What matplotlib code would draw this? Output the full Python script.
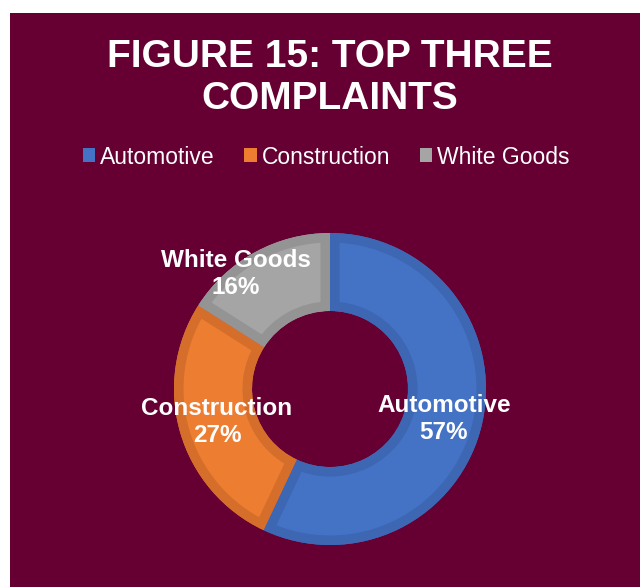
import matplotlib
matplotlib.use("Agg")
import matplotlib.pyplot as plt
from matplotlib.patches import Rectangle, Patch, PathPatch
from matplotlib import font_manager
import os

categories = ["Automotive", "Construction", "White Goods"]
shares = [57, 27, 16]
pct_labels = ["57%", "27%", "16%"]

fill_colors = ["#4472C4", "#ED7D31", "#A5A5A5"]
edge_colors = ["#3D66B3", "#D46E2A", "#949494"]
bg = "#660033"


def find_font(filename):
    for path in font_manager.findSystemFonts():
        if os.path.basename(path) == filename:
            return path
    return None


reg_path = find_font("LiberationSans-Regular.ttf")
bold_path = find_font("LiberationSans-Bold.ttf")

fp_reg = font_manager.FontProperties(fname=reg_path) if reg_path else font_manager.FontProperties(family="DejaVu Sans")
fp_bold = font_manager.FontProperties(fname=bold_path) if bold_path else font_manager.FontProperties(family="DejaVu Sans", weight="bold")

W, H = 640, 587
fig = plt.figure(figsize=(W / 100, H / 100), dpi=100, facecolor="white")

# maroon panel
fig.patches.append(Rectangle((10 / W, 0), 1 - 10 / W, 1 - 13 / H,
                             transform=fig.transFigure, facecolor=bg,
                             edgecolor="none", zorder=-5))

# donut axes: centre (330, 389) px, radius 156 px
R = 156
lim = 1.1
cx, cy = 330, 389
ax = fig.add_axes([(cx - R * lim) / W, (H - cy - R * lim) / H,
                   2 * R * lim / W, 2 * R * lim / H])
ax.set_zorder(2)

wedges, _ = ax.pie(shares, colors=fill_colors, startangle=90, counterclock=False,
                   radius=1.0, wedgeprops=dict(width=0.5, linewidth=0))
ax.set_xlim(-lim, lim)
ax.set_ylim(-lim, lim)
ax.set_aspect("equal")
ax.axis("off")

# darker inner rim on each segment: a stroke clipped to the segment shape
band_px = 9.5
for w, ec in zip(wedges, edge_colors):
    path = w.get_path()
    clip = PathPatch(path, transform=w.get_transform(), facecolor="none",
                     edgecolor="none")
    rim = PathPatch(path, transform=w.get_transform(), facecolor="none",
                    edgecolor=ec, linewidth=2 * band_px * 72 / 100,
                    joinstyle="miter")
    ax.add_patch(rim)
    rim.set_clip_path(clip)

# data labels (offsets from centre in pixels)
label_px = [(444, 419), (217, 422), (236, 274)]
lab_font = fp_bold.copy()
lab_font.set_size(17.5)
for name, pct, (px, py) in zip(categories, pct_labels, label_px):
    ax.text((px - cx) / R, (cy - py) / R, f"{name}\n{pct}", ha="center",
            va="center", color="white", fontproperties=lab_font,
            linespacing=1.2, zorder=5)

title_font = fp_bold.copy()
title_font.set_size(28)
fig.text(330 / W, 1 - 78 / H, "FIGURE 15: TOP THREE\nCOMPLAINTS", ha="center",
         va="center", color="white", fontproperties=title_font,
         linespacing=1.2)

leg_font = fp_reg.copy()
leg_font.set_size(16.5)
handles = [Patch(facecolor=c, edgecolor="none") for c in fill_colors]
leg = fig.legend(handles, categories, loc="center", bbox_to_anchor=(326 / W, 1 - 157 / H),
                 ncol=3, frameon=False, prop=leg_font, handlelength=0.55,
                 handleheight=0.55, handletextpad=0.2, columnspacing=1.3,
                 labelcolor="white")

fig.savefig("out.png", dpi=100, facecolor="white")
